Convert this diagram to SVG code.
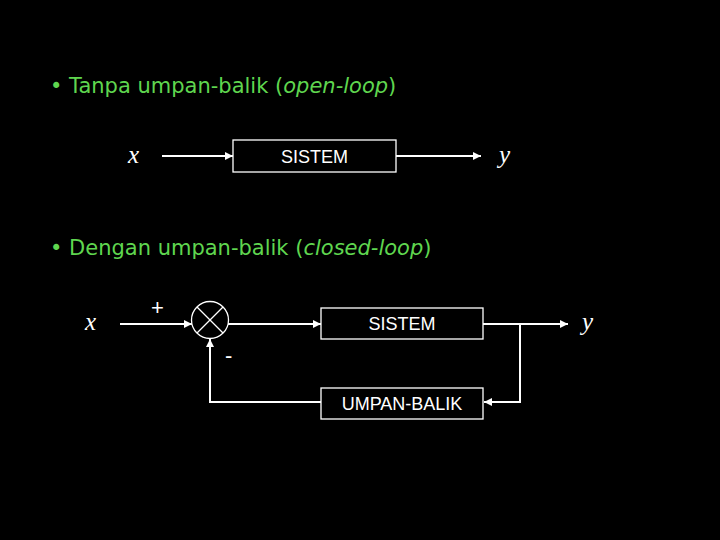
<svg xmlns="http://www.w3.org/2000/svg" width="720" height="540" viewBox="0 0 720 540">
<style>
.bg{fill:#000}
.box{fill:none;stroke:#fff;stroke-width:1.3}
.ln{fill:none;stroke:#fff;stroke-width:2}
.lbl{font-family:"Liberation Sans",Arial,sans-serif;font-size:18px;fill:#fff;text-anchor:middle}
.var{font-family:"Liberation Serif","Times New Roman",serif;font-style:italic;font-size:25px;fill:#fff}
.head{font-family:"DejaVu Sans","Noto Sans",sans-serif;font-size:21px;fill:#5fd64f}
.sign{font-family:"Liberation Sans",Arial,sans-serif;font-size:22px;fill:#fff}
</style>
<defs>
<marker id="ah" viewBox="0 0 10 10" refX="10" refY="5" markerWidth="4" markerHeight="4" orient="auto" markerUnits="strokeWidth">
<path d="M0,0 L10,5 L0,10 z" fill="#fff"/>
</marker>
</defs>
<rect class="bg" x="0" y="0" width="720" height="540"/>
<text class="head" x="50" y="93">• Tanpa umpan-balik (<tspan font-style="italic">open-loop</tspan>)</text>
<text class="head" x="50" y="255">• Dengan umpan-balik (<tspan font-style="italic">closed-loop</tspan>)</text>

<g id="x1"><text class="var" x="128" y="163">x</text></g>
<g id="sistem1"><rect class="box" x="233" y="140" width="163" height="32"/><text class="lbl" x="314.5" y="163">SISTEM</text></g>
<g id="y1"><text class="var" x="499" y="163">y</text></g>

<g id="x2"><text class="var" x="85" y="330">x</text></g>
<g id="sum"><circle class="box" cx="210" cy="320" r="18.5"/><line class="box" x1="197" y1="307" x2="223" y2="333"/><line class="box" x1="223" y1="307" x2="197" y2="333"/></g>
<g id="plus"><text class="sign" x="151" y="315">+</text></g>
<g id="minus"><text class="sign" x="225" y="363">-</text></g>
<g id="sistem2"><rect class="box" x="321" y="308" width="162" height="31"/><text class="lbl" x="402" y="330">SISTEM</text></g>
<g id="umpan"><rect class="box" x="321" y="388" width="162" height="31"/><text class="lbl" x="402" y="410">UMPAN-BALIK</text></g>
<g id="y2"><text class="var" x="582" y="330">y</text></g>

<g id="connectors">
<line class="ln" x1="162" y1="156" x2="233" y2="156" marker-end="url(#ah)"/>
<line class="ln" x1="396" y1="156" x2="481" y2="156" marker-end="url(#ah)"/>
<line class="ln" x1="120" y1="324" x2="192" y2="324" marker-end="url(#ah)"/>
<line class="ln" x1="228" y1="324" x2="321" y2="324" marker-end="url(#ah)"/>
<line class="ln" x1="483" y1="324" x2="568" y2="324" marker-end="url(#ah)"/>
<polyline class="ln" points="520,324 520,402 484,402" marker-end="url(#ah)"/>
<polyline class="ln" points="321,402 210,402 210,339" marker-end="url(#ah)"/>
</g>
</svg>
